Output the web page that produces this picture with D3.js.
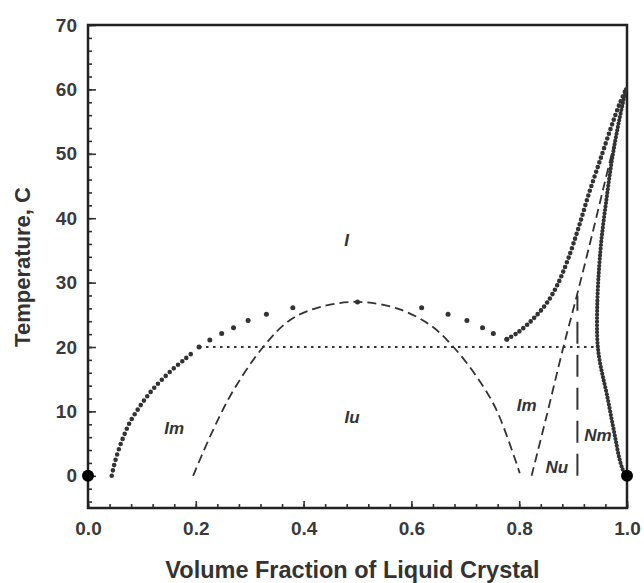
<!DOCTYPE html>
<html>
<head>
<meta charset="utf-8">
<script src="https://cdn.jsdelivr.net/npm/d3@7"></script>
<style>
  body { margin: 0; background: #fff; }
  text { font-family: "Liberation Sans", Arial, sans-serif; }
</style>
</head>
<body>
<svg id="drawing_region"></svg>
<script>
// liquidus, dense left branch (x = volume fraction, t = temperature C)
var liqLeft = [
  [0.044, 0], [0.048, 1.5], [0.053, 3], [0.060, 4.8], [0.068, 6.5], [0.077, 8.2],
  [0.090, 10], [0.104, 11.7], [0.120, 13.4], [0.138, 15], [0.158, 16.6],
  [0.178, 18], [0.195, 19.2]
];
// liquidus, sparse markers across the middle
var liqMiddle = [
  [0.206, 20.0], [0.226, 21.1], [0.248, 22.1], [0.270, 23.0], [0.297, 24.1],
  [0.331, 25.1], [0.380, 26.1], [0.500, 27.0], [0.619, 26.1], [0.668, 25.1],
  [0.703, 24.1], [0.732, 23.0], [0.752, 22.1], [0.777, 21.2]
];
// liquidus, dense right branch up to the clearing point
var liqRight = [
  [0.777, 21.2], [0.795, 22.1], [0.814, 23.4], [0.832, 24.9], [0.851, 26.8],
  [0.870, 29.5], [0.890, 33.5], [0.910, 38.5], [0.930, 44], [0.950, 49],
  [0.970, 54], [0.985, 57.5], [0.998, 60]
];
// nematic boundary (dense markers)
var nemCurve = [
  [0.998, 60], [0.985, 55], [0.972, 49], [0.962, 43], [0.953, 37], [0.948, 32],
  [0.945, 27], [0.945, 21], [0.949, 18], [0.955, 15.5], [0.963, 12.5],
  [0.971, 9], [0.978, 6], [0.985, 3], [0.991, 1.2], [0.997, 0]
];
// dashed dome (Im / Iu boundary)
var dome = [
  [0.195, 0], [0.232, 7.1], [0.270, 13.3], [0.325, 20], [0.375, 24.2],
  [0.430, 26.2], [0.500, 27], [0.573, 26], [0.635, 23.4], [0.678, 20],
  [0.721, 15.4], [0.758, 10.2], [0.801, 0.4]
];
// dashed line Im / Nu
var slopeLine = [
  [0.823, 0], [0.850, 9], [0.882, 20], [0.907, 28], [0.934, 37],
  [0.960, 46], [0.980, 53], [0.998, 60]
];
// vertical long dash Nu / Nm
var vertLine = [[0.908, 0], [0.908, 28]];
// dotted horizontal at 20 C
var hLine = [[0.206, 20], [0.945, 20]];
// pure component points
var endPoints = [[0, 0], [1, 0]];
// region labels
var regionLabels = [
  {text: 'I', x: 0.48, t: 36.6},
  {text: 'Im', x: 0.16, t: 7.4},
  {text: 'Iu', x: 0.49, t: 9.2},
  {text: 'Im', x: 0.814, t: 11},
  {text: 'Nu', x: 0.87, t: 1.4},
  {text: 'Nm', x: 0.946, t: 6.3}
];
var xTicks = [0, 0.2, 0.4, 0.6, 0.8, 1.0];
var yTicks = [0, 10, 20, 30, 40, 50, 60, 70];

var width = 644;
var height = 583;
var margin = {top: 25, right: 17, bottom: 75, left: 88};

var svg = d3.select('#drawing_region')
    .attr('width', width)
    .attr('height', height);

var chart = svg.append('g')
    .attr('transform', `translate(${margin.left}, ${margin.top})`);

const inner_width = width - margin.left - margin.right;
const inner_height = height - margin.top - margin.bottom;

const xscale = d3.scaleLinear().domain([0, 1]).range([0, inner_width]);
const yscale = d3.scaleLinear().domain([-5, 70]).range([inner_height, 0]);

// minor ticks (inward, no labels)
const xminor = d3.axisBottom(xscale).tickValues(d3.range(0, 1.001, 0.04))
    .tickSize(-4).tickFormat('');
const yminor = d3.axisLeft(yscale).tickValues(d3.range(-4, 70.01, 2))
    .tickSize(-4).tickFormat('');
// major ticks
const xaxis = d3.axisBottom(xscale).tickValues(xTicks)
    .tickSize(-7).tickPadding(14).tickFormat(d3.format('.1f'));
const yaxis = d3.axisLeft(yscale).tickValues(yTicks)
    .tickSize(-8).tickPadding(11);

chart.append('g').attr('transform', `translate(0, ${inner_height})`).call(xminor);
chart.append('g').call(yminor);
const xg = chart.append('g').attr('transform', `translate(0, ${inner_height})`).call(xaxis);
const yg = chart.append('g').call(yaxis);

chart.selectAll('.domain').remove();
chart.selectAll('.tick line').attr('stroke', '#333').attr('stroke-width', 1.6);
chart.selectAll('.tick text')
    .attr('font-size', 19).attr('font-weight', 'bold').attr('fill', '#3a3a3a');

// frame
chart.append('rect')
    .attr('x', 0).attr('y', 0)
    .attr('width', inner_width).attr('height', inner_height)
    .attr('fill', 'none').attr('stroke', '#222').attr('stroke-width', 2.5);

var line = d3.line().x(d => xscale(d[0])).y(d => yscale(d[1]));
var smooth = d3.line().curve(d3.curveCatmullRom).x(d => xscale(d[0])).y(d => yscale(d[1]));

// dotted 20 C line
chart.append('path').attr('d', line(hLine))
    .attr('fill', 'none').attr('stroke', '#333').attr('stroke-width', 1.8)
    .attr('stroke-dasharray', '2.5,4.5');

// dashed boundaries
chart.append('path').attr('d', smooth(dome))
    .attr('fill', 'none').attr('stroke', '#333').attr('stroke-width', 1.8)
    .attr('stroke-dasharray', '9,5');
chart.append('path').attr('d', smooth(slopeLine))
    .attr('fill', 'none').attr('stroke', '#333').attr('stroke-width', 1.8)
    .attr('stroke-dasharray', '9,5');
chart.append('path').attr('d', line(vertLine))
    .attr('fill', 'none').attr('stroke', '#333').attr('stroke-width', 2)
    .attr('stroke-dasharray', '22,11');

// dense marker curves: round caps on zero-length dashes
chart.append('path').attr('d', smooth(liqLeft))
    .attr('fill', 'none').attr('stroke', '#333').attr('stroke-width', 4.6)
    .attr('stroke-linecap', 'round').attr('stroke-dasharray', '0,5.5');
chart.append('path').attr('d', smooth(liqRight))
    .attr('fill', 'none').attr('stroke', '#333').attr('stroke-width', 4.6)
    .attr('stroke-linecap', 'round').attr('stroke-dasharray', '0,5');
chart.append('path').attr('d', smooth(nemCurve))
    .attr('fill', 'none').attr('stroke', '#333').attr('stroke-width', 4.2)
    .attr('stroke-linecap', 'round').attr('stroke-dasharray', '0,3.5');

// sparse markers
chart.selectAll('.mid').data(liqMiddle).enter()
    .append('circle')
    .attr('cx', d => xscale(d[0]))
    .attr('cy', d => yscale(d[1]))
    .attr('r', 2.5)
    .attr('fill', '#333');

// pure components
chart.selectAll('.end').data(endPoints).enter()
    .append('circle')
    .attr('cx', d => xscale(d[0]))
    .attr('cy', d => yscale(d[1]))
    .attr('r', 6)
    .attr('fill', '#000');

// region labels
chart.selectAll('.lab').data(regionLabels).enter()
    .append('text')
    .attr('x', d => xscale(d.x))
    .attr('y', d => yscale(d.t))
    .attr('dy', '0.35em')
    .attr('text-anchor', 'middle')
    .attr('font-size', 17)
    .attr('font-weight', 'bold')
    .attr('font-style', 'italic')
    .attr('fill', '#333')
    .text(d => d.text);

// axis titles
svg.append('text')
    .attr('x', margin.left + inner_width / 2 - 5)
    .attr('y', 578)
    .attr('text-anchor', 'middle')
    .attr('font-size', 23.5)
    .attr('font-weight', 'bold')
    .attr('fill', '#333')
    .text('Volume Fraction of Liquid Crystal');

svg.append('text')
    .attr('transform', 'translate(30, 267) rotate(-90)')
    .attr('text-anchor', 'middle')
    .attr('font-size', 22)
    .attr('font-weight', 'bold')
    .attr('fill', '#333')
    .text('Temperature, C');
</script>
</body>
</html>
